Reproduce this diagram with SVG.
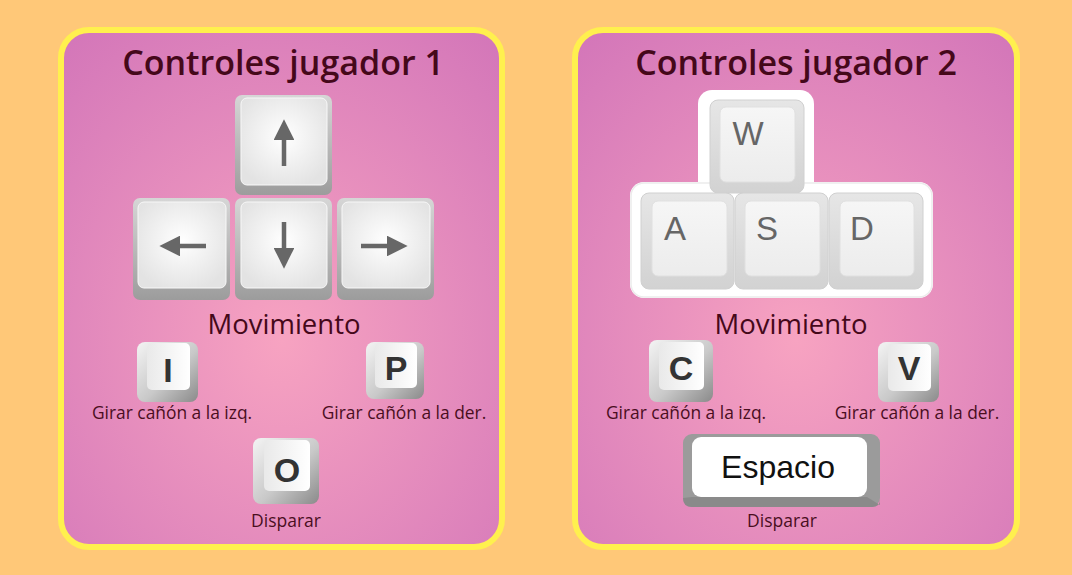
<svg xmlns="http://www.w3.org/2000/svg" width="1072" height="575" viewBox="0 0 1072 575">
<defs>
  <radialGradient id="panelGrad" cx="0.5" cy="0.6" r="0.75">
    <stop offset="0" stop-color="#F7A3C1"/>
    <stop offset="1" stop-color="#D477B9"/>
  </radialGradient>
  <linearGradient id="arrowBody" x1="0" y1="0" x2="0" y2="1">
    <stop offset="0" stop-color="#d6d6d6"/>
    <stop offset="1" stop-color="#9c9c9c"/>
  </linearGradient>
  <radialGradient id="arrowFace" cx="0.5" cy="0.45" r="0.6">
    <stop offset="0" stop-color="#ffffff"/>
    <stop offset="1" stop-color="#e3e3e3"/>
  </radialGradient>
  <linearGradient id="letterBody" x1="0" y1="0" x2="1" y2="1">
    <stop offset="0" stop-color="#f4f4f4"/>
    <stop offset="0.55" stop-color="#c9c9c9"/>
    <stop offset="1" stop-color="#8a8a8a"/>
  </linearGradient>
  <linearGradient id="letterFace" x1="0" y1="0" x2="1" y2="0">
    <stop offset="0" stop-color="#e9e9e9"/>
    <stop offset="1" stop-color="#ffffff"/>
  </linearGradient>
  <linearGradient id="wasdBody" x1="0" y1="0" x2="0" y2="1">
    <stop offset="0" stop-color="#e6e6e6"/>
    <stop offset="1" stop-color="#d2d2d2"/>
  </linearGradient>
  <linearGradient id="wasdFace" x1="0" y1="0" x2="0" y2="1">
    <stop offset="0" stop-color="#f6f6f6"/>
    <stop offset="1" stop-color="#ececec"/>
  </linearGradient>
  <marker id="ah" viewBox="0 0 10 10" refX="1" refY="5" markerWidth="4.6" markerHeight="4.6" orient="auto">
    <path d="M0,0 L10,5 L0,10 z" fill="#676767"/>
  </marker>
</defs>
<style>
  .panel { fill: url(#panelGrad); stroke: #FFF04E; stroke-width: 6; }
  .title { font-family: "Open Sans", "Liberation Sans", sans-serif; font-weight: 600; font-size: 34px; fill: #45081A; text-anchor: middle; }
  .mov { font-family: "Open Sans", "Liberation Sans", sans-serif; font-size: 27.5px; fill: #45081A; text-anchor: middle; }
  .lbl { font-family: "Open Sans", "Liberation Sans", sans-serif; font-size: 17.4px; fill: #4A0E1E; text-anchor: middle; }
  .lbl2 { font-family: "Open Sans", "Liberation Sans", sans-serif; font-size: 17.5px; fill: #4A0E1E; text-anchor: middle; }
  .abody { fill: url(#arrowBody); }
  .aface { fill: url(#arrowFace); stroke: #f8f8f8; stroke-width: 1; }
  .arrow { stroke: #676767; stroke-width: 4.5; fill: none; }
  .lbody { fill: url(#letterBody); }
  .lface { fill: url(#letterFace); }
  .ltxt { font-family: "Liberation Sans", Arial, sans-serif; font-weight: bold; font-size: 34px; fill: #333333; text-anchor: middle; }
  .wbody { fill: url(#wasdBody); stroke: #d0d0d0; stroke-width: 1; }
  .wface { fill: url(#wasdFace); stroke: #e0e0e0; stroke-width: 1; }
  .wtxt { font-family: "Liberation Sans", Arial, sans-serif; font-size: 33px; fill: #666666; text-anchor: middle; }
</style>
<rect x="0" y="0" width="1072" height="575" fill="#FFC878"/>

<g id="panel1">
  <rect class="panel" x="61" y="30" width="441" height="517" rx="28"/>
  <text class="title" x="283" y="75">Controles jugador 1</text>
</g>

<g id="key-up">
  <rect class="abody" x="235" y="95" width="97" height="100" rx="7"/>
  <rect class="aface" x="241" y="98" width="86" height="87" rx="6"/>
</g>
<g id="key-left">
  <rect class="abody" x="133" y="198" width="97" height="102" rx="7"/>
  <rect class="aface" x="138" y="202" width="88" height="86" rx="6"/>
</g>
<g id="key-down">
  <rect class="abody" x="235" y="198" width="97" height="102" rx="7"/>
  <rect class="aface" x="241" y="202" width="86" height="86" rx="6"/>
</g>
<g id="key-right">
  <rect class="abody" x="337" y="198" width="97" height="102" rx="7"/>
  <rect class="aface" x="342" y="202" width="88" height="86" rx="6"/>
</g>

<g id="arrows">
  <line class="arrow" x1="284" y1="166" x2="284" y2="138" marker-end="url(#ah)"/>
  <line class="arrow" x1="284" y1="222" x2="284" y2="250" marker-end="url(#ah)"/>
  <line class="arrow" x1="206" y1="246" x2="178" y2="246" marker-end="url(#ah)"/>
  <line class="arrow" x1="361" y1="246" x2="389" y2="246" marker-end="url(#ah)"/>
</g>

<g id="mov1">
  <text class="mov" x="284" y="334">Movimiento</text>
</g>

<g id="key-I">
  <rect class="lbody" x="137" y="342" width="61" height="60" rx="8"/>
  <rect class="lface" x="147" y="343" width="43" height="47" rx="5"/>
  <text class="ltxt" x="168" y="382" font-size="38px">I</text>
  <text class="lbl" x="172" y="419">Girar cañón a la izq.</text>
</g>
<g id="key-P">
  <rect class="lbody" x="366" y="342" width="58" height="57" rx="8"/>
  <rect class="lface" x="375" y="343" width="42" height="45" rx="5"/>
  <text class="ltxt" x="396" y="380">P</text>
  <text class="lbl" x="404" y="419">Girar cañón a la der.</text>
</g>
<g id="key-O">
  <rect class="lbody" x="253" y="438" width="66" height="66" rx="8"/>
  <rect class="lface" x="264" y="440" width="46" height="51" rx="5"/>
  <text class="ltxt" x="287" y="482">O</text>
  <text class="lbl2" x="286" y="527">Disparar</text>
</g>

<g id="panel2">
  <rect class="panel" x="575" y="30" width="442" height="517" rx="28"/>
  <text class="title" x="796" y="75">Controles jugador 2</text>
</g>

<g id="wasd">
  <rect x="698" y="90" width="116" height="112" rx="14" fill="#ffffff"/>
  <rect x="630" y="182" width="303" height="116" rx="14" fill="#ffffff"/>
  <rect x="631" y="183" width="301" height="114" rx="13" fill="none" stroke="#ececec" stroke-width="1.5"/>
  <g id="key-W">
    <rect class="wbody" x="710" y="100" width="94" height="93" rx="8"/>
    <rect class="wface" x="720" y="107" width="75" height="75" rx="6"/>
    <text class="wtxt" x="748" y="145">W</text>
  </g>
  <g id="key-A">
    <rect class="wbody" x="641" y="193" width="93" height="96" rx="8"/>
    <rect class="wface" x="652" y="201" width="75" height="75" rx="6"/>
    <text class="wtxt" x="675" y="240">A</text>
  </g>
  <g id="key-S">
    <rect class="wbody" x="735" y="193" width="93" height="96" rx="8"/>
    <rect class="wface" x="745" y="201" width="75" height="75" rx="6"/>
    <text class="wtxt" x="767" y="240">S</text>
  </g>
  <g id="key-D">
    <rect class="wbody" x="829" y="193" width="94" height="96" rx="8"/>
    <rect class="wface" x="840" y="201" width="74" height="75" rx="6"/>
    <text class="wtxt" x="862" y="240">D</text>
  </g>
</g>

<g id="mov2">
  <text class="mov" x="791" y="334">Movimiento</text>
</g>

<g id="key-C">
  <rect class="lbody" x="649" y="340" width="64" height="62" rx="8"/>
  <rect class="lface" x="659" y="342" width="45" height="48" rx="5"/>
  <text class="ltxt" x="681" y="380">C</text>
  <text class="lbl" x="686" y="419">Girar cañón a la izq.</text>
</g>
<g id="key-V">
  <rect class="lbody" x="878" y="342" width="61" height="60" rx="8"/>
  <rect class="lface" x="888" y="344" width="43" height="47" rx="5"/>
  <text class="ltxt" x="909" y="380">V</text>
  <text class="lbl" x="917" y="419">Girar cañón a la der.</text>
</g>

<g id="key-espacio">
  <rect x="683" y="434" width="197" height="73" rx="9" fill="#9b9b9b"/>
  <path d="M683,498 L692,497 L867,497 L880,505 L880,500 Q880,507 872,507 L692,507 Q683,507 683,498 z" fill="#8a8a8a"/>
  <rect x="692" y="437" width="175" height="60" rx="9" fill="#ffffff"/>
  <text x="778" y="478" font-family="Liberation Sans, Arial, sans-serif" font-size="32px" fill="#111111" text-anchor="middle">Espacio</text>
  <text class="lbl2" x="782" y="527">Disparar</text>
</g>
</svg>
